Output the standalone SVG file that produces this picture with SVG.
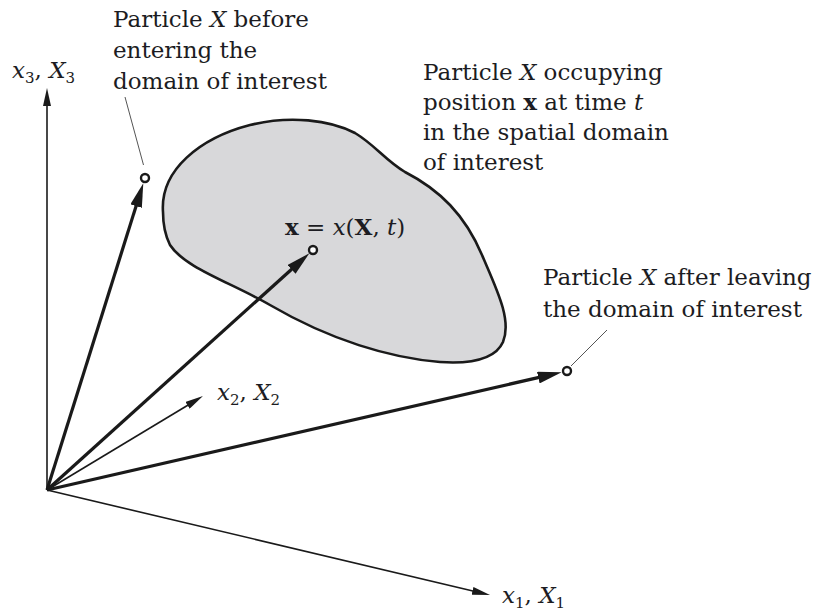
<svg xmlns="http://www.w3.org/2000/svg" width="815" height="612" viewBox="0 0 815 612">
<defs>
<style>
text{font-family:"DejaVu Serif","Liberation Serif",serif;font-size:23px;fill:#1c1c22}
.i{font-style:italic}
.b{font-weight:bold}
.sub{font-size:15px}
.axis{stroke:#1a1a1a;stroke-width:1.6;fill:none}
.vec{stroke:#1a1a1a;stroke-width:3.2;fill:none}
.lead{stroke:#555;stroke-width:1;fill:none}
.pt{fill:#fff;stroke:#1a1a1a;stroke-width:2.4}
</style>
<marker id="thick" markerUnits="userSpaceOnUse" markerWidth="24" markerHeight="12" viewBox="0 0 24 12" refX="11" refY="6" orient="auto"><path d="M0,0 L24,6 L0,12 z" fill="#1a1a1a"/></marker>
<marker id="thin" markerUnits="userSpaceOnUse" markerWidth="18" markerHeight="8" viewBox="0 0 18 8" refX="8" refY="4" orient="auto"><path d="M0,0 L18,4 L0,8 z" fill="#1a1a1a"/></marker>
</defs>
<rect width="815" height="612" fill="#fff"/>
<g id="domain">
<path d="M163,212 C160,170 200,138 250,125 C290,115 330,120 355,133 C375,145 385,160 405,172 C440,190 465,215 482,255 C497,290 512,320 503,342 C495,360 470,364 440,362 C390,358 330,340 270,305 C230,282 185,268 170,245 C164,233 163,222 163,212 Z" fill="#d8d8da" stroke="#1a1a1a" stroke-width="2.6"/>
</g>
<g id="connectors">
<line class="axis" x1="47" y1="490" x2="47" y2="98" marker-end="url(#thin)"/>
<line class="axis" x1="47" y1="490" x2="480.3" y2="592.7" marker-end="url(#thin)"/>
<line class="axis" x1="47" y1="490" x2="194.4" y2="401.2" stroke-width="1.2" marker-end="url(#thin)"/>
<line class="vec" x1="47" y1="490" x2="139.4" y2="195.6" marker-end="url(#thick)"/>
<line class="vec" x1="47" y1="490" x2="299.7" y2="262" marker-end="url(#thick)"/>
<line class="vec" x1="47" y1="490" x2="549" y2="375.1" marker-end="url(#thick)"/>
<line class="lead" x1="125" y1="97" x2="143.5" y2="165"/>
<line class="lead" x1="607" y1="330" x2="571" y2="366"/>
</g>
<g id="particle-before">
<circle class="pt" cx="145" cy="178" r="4"/>
<text x="113" y="27">Particle <tspan class="i">X</tspan> before</text>
<text x="113" y="58">entering the</text>
<text x="113" y="89">domain of interest</text>
</g>
<g id="particle-current">
<circle class="pt" cx="313" cy="250" r="4"/>
<text x="285" y="235"><tspan class="b">x</tspan> = <tspan class="i">x</tspan>(<tspan class="b">X</tspan>, <tspan class="i">t</tspan>)</text>
<text x="423" y="80">Particle <tspan class="i">X</tspan> occupying</text>
<text x="423" y="110">position <tspan class="b">x</tspan> at time <tspan class="i">t</tspan></text>
<text x="423" y="140">in the spatial domain</text>
<text x="423" y="170">of interest</text>
</g>
<g id="particle-after">
<circle class="pt" cx="567" cy="371" r="4"/>
<text x="543" y="285">Particle <tspan class="i">X</tspan> after leaving</text>
<text x="543" y="317">the domain of interest</text>
</g>
<g id="axis-labels">
<text x="12" y="78"><tspan class="i">x</tspan><tspan class="sub" dy="5">3</tspan><tspan dy="-5">, </tspan><tspan class="i">X</tspan><tspan class="sub" dy="5">3</tspan></text>
<text x="217" y="400"><tspan class="i">x</tspan><tspan class="sub" dy="5">2</tspan><tspan dy="-5">, </tspan><tspan class="i">X</tspan><tspan class="sub" dy="5">2</tspan></text>
<text x="502" y="603"><tspan class="i">x</tspan><tspan class="sub" dy="5">1</tspan><tspan dy="-5">, </tspan><tspan class="i">X</tspan><tspan class="sub" dy="5">1</tspan></text>
</g>
</svg>
